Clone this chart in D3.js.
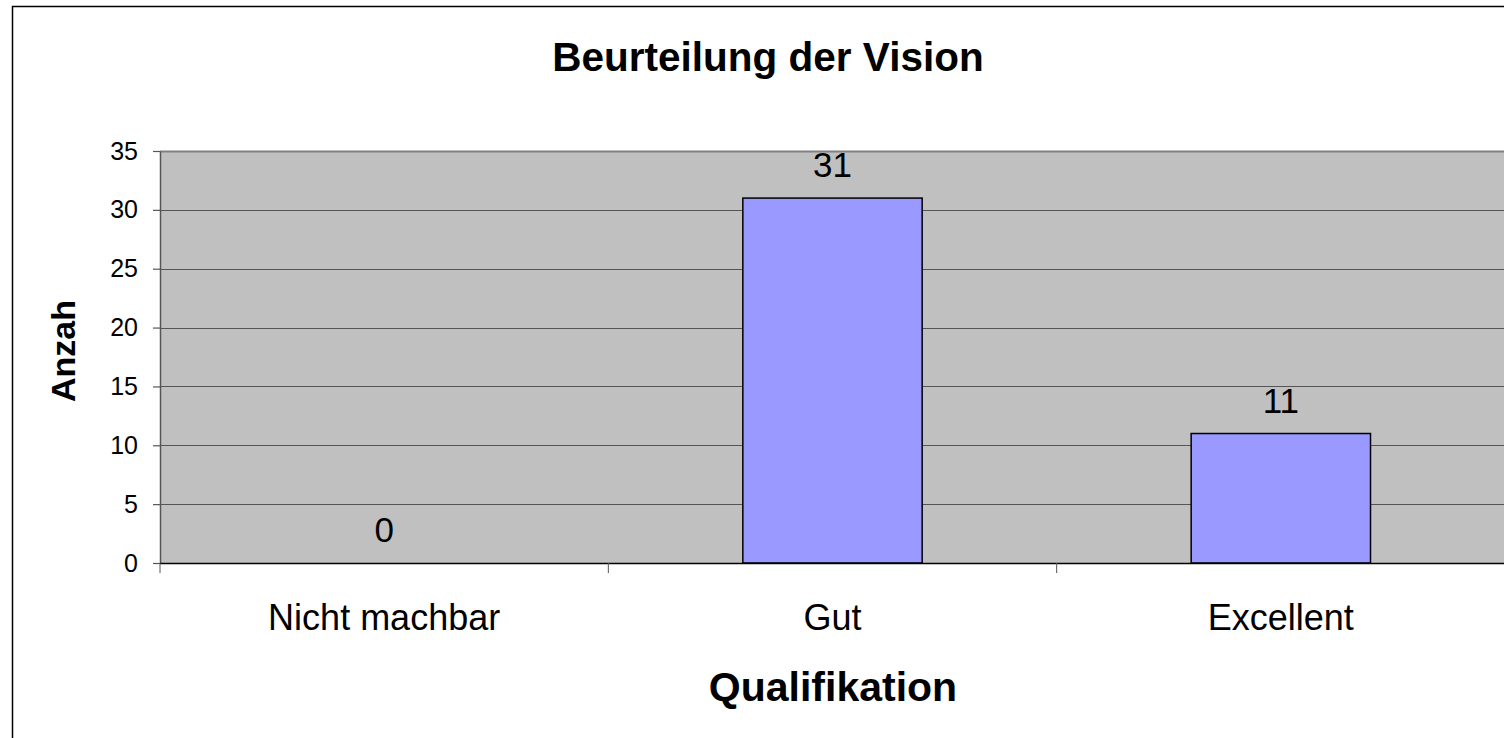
<!DOCTYPE html>
<html>
<head>
<meta charset="utf-8">
<script src="https://cdn.jsdelivr.net/npm/d3@7"></script>
<style>
  body { margin: 0; background: #fff; }
  svg { display: block; font-family: "Liberation Sans", Arial, sans-serif; }
</style>
</head>
<body>
<div id="chart"></div>
<script>
// Daten
const categories = ['Nicht machbar', 'Gut', 'Excellent'];
const counts = [0, 31, 11];
const yTicks = [0, 5, 10, 15, 20, 25, 30, 35];

const width = 1504, height = 738;
const plot = { left: 160, top: 151, right: 1505, bottom: 563 };

const svg = d3.select('#chart').append('svg')
    .attr('width', width)
    .attr('height', height);

// Rahmen des Diagramms
svg.append('rect')
    .attr('x', 12.5).attr('y', 6.5)
    .attr('width', 1510).attr('height', 760)
    .attr('fill', '#fff')
    .attr('stroke', '#000')
    .attr('stroke-width', 1.5);

const x = d3.scaleBand()
    .domain(categories)
    .range([plot.left, plot.right])
    .paddingInner(0.6)
    .paddingOuter(0.3);

const xTick = d3.scaleBand()
    .domain(categories)
    .range([plot.left, plot.right]);

const y = d3.scaleLinear()
    .domain([0, 35])
    .range([plot.bottom, plot.top]);

// Plotbereich
svg.append('rect')
    .attr('x', plot.left).attr('y', plot.top)
    .attr('width', plot.right - plot.left)
    .attr('height', plot.bottom - plot.top)
    .attr('fill', '#c0c0c0');

// Gitterlinien
svg.append('g')
    .selectAll('line')
    .data(yTicks.slice(1))
    .join('line')
    .attr('x1', plot.left).attr('x2', plot.right)
    .attr('y1', d => Math.round(y(d)) + 0.5)
    .attr('y2', d => Math.round(y(d)) + 0.5)
    .attr('stroke', d => d === 35 ? '#808080' : '#555')
    .attr('stroke-width', d => d === 35 ? 2 : 1.2);

// Balken
svg.append('g')
    .selectAll('rect')
    .data(counts)
    .join('rect')
    .attr('x', (d, i) => x(categories[i]))
    .attr('y', d => y(d))
    .attr('width', x.bandwidth())
    .attr('height', d => y(0) - y(d))
    .attr('fill', '#9999ff')
    .attr('stroke', d => d > 0 ? '#000' : 'none')
    .attr('stroke-width', 1.5);

// Y-Achse
const yAxis = svg.append('g')
    .attr('transform', `translate(${plot.left},0)`)
    .call(d3.axisLeft(y).tickValues(yTicks).tickSize(7).tickPadding(15).tickSizeOuter(0));
yAxis.select('.domain').attr('stroke', '#555').attr('stroke-width', 1.5);
yAxis.selectAll('.tick line').attr('stroke', '#555').attr('stroke-width', 1.2);
yAxis.selectAll('.tick text')
    .attr('font-size', 25)
    .attr('fill', '#000')
    .attr('font-family', '"Liberation Sans", Arial, sans-serif');

// X-Achse
const xAxis = svg.append('g')
    .attr('transform', `translate(0,${plot.bottom})`);
xAxis.append('line')
    .attr('x1', plot.left).attr('x2', plot.right)
    .attr('y1', 0.5).attr('y2', 0.5)
    .attr('stroke', '#000').attr('stroke-width', 1.5);
xAxis.selectAll('line.tick')
    .data(categories.concat(['end']))
    .join('line')
    .attr('class', 'tick')
    .attr('x1', (d, i) => plot.left + i * xTick.bandwidth())
    .attr('x2', (d, i) => plot.left + i * xTick.bandwidth())
    .attr('y1', 0).attr('y2', 10)
    .attr('stroke', '#555');
xAxis.selectAll('text')
    .data(categories)
    .join('text')
    .attr('x', d => xTick(d) + xTick.bandwidth() / 2)
    .attr('y', 67)
    .attr('text-anchor', 'middle')
    .attr('font-size', 36)
    .text(d => d);

// Werte
svg.append('g')
    .selectAll('text')
    .data(counts)
    .join('text')
    .attr('x', (d, i) => x(categories[i]) + x.bandwidth() / 2)
    .attr('y', d => y(d) - 21)
    .attr('text-anchor', 'middle')
    .attr('font-size', 35)
    .text(d => d);

// Titel
svg.append('text')
    .attr('x', 768).attr('y', 71)
    .attr('text-anchor', 'middle')
    .attr('font-size', 40.5)
    .attr('font-weight', 'bold')
    .text('Beurteilung der Vision');

svg.append('text')
    .attr('x', 833).attr('y', 701)
    .attr('text-anchor', 'middle')
    .attr('font-size', 41)
    .attr('font-weight', 'bold')
    .text('Qualifikation');

svg.append('text')
    .attr('transform', 'translate(75,351) rotate(-90)')
    .attr('text-anchor', 'middle')
    .attr('font-size', 34)
    .attr('font-weight', 'bold')
    .text('Anzah');
</script>
</body>
</html>
